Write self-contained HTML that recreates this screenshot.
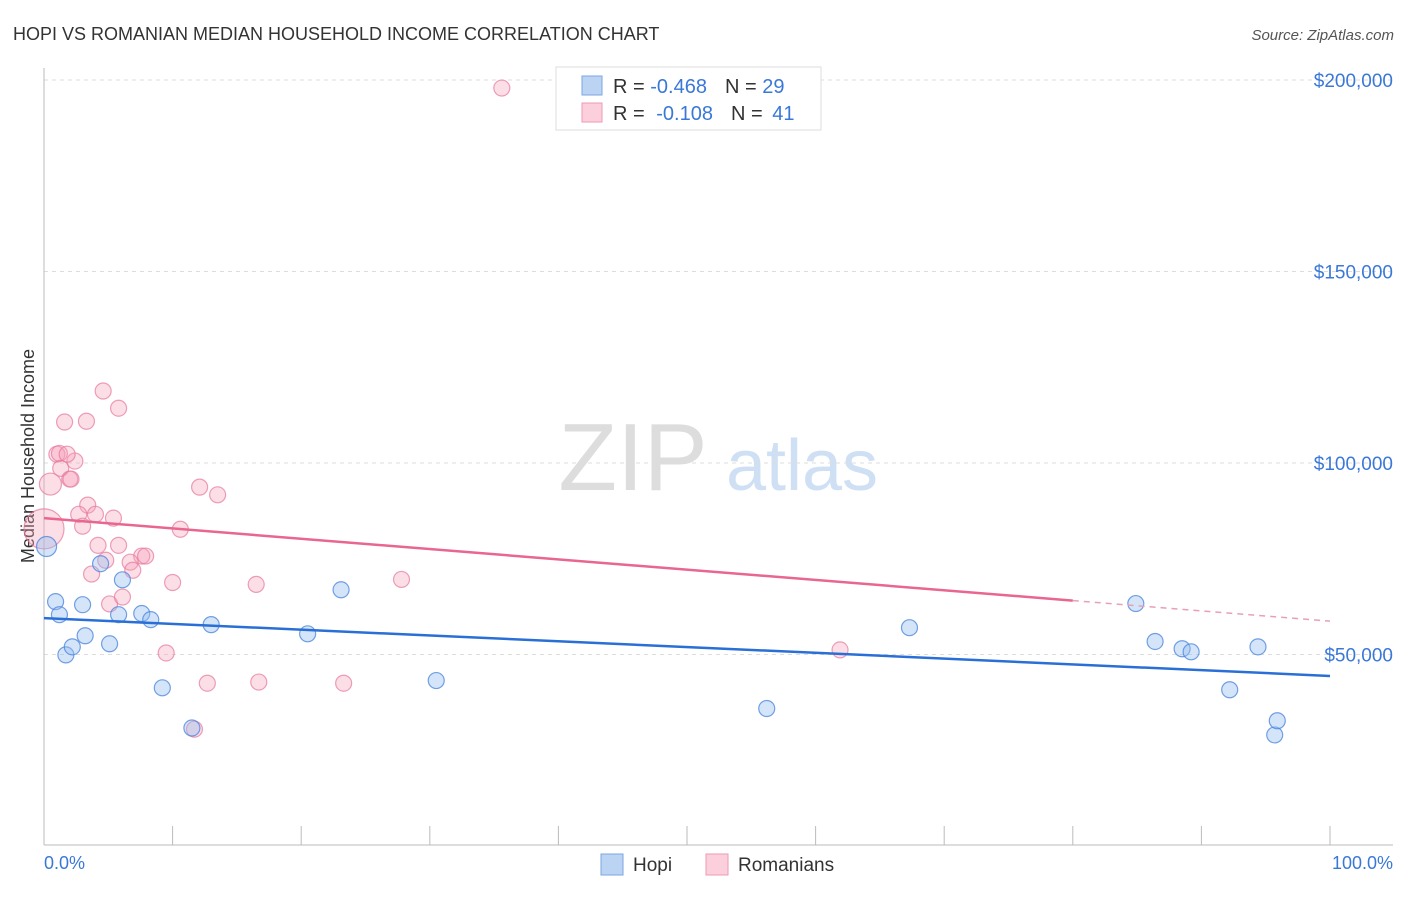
<!DOCTYPE html>
<html><head><meta charset="utf-8"><style>
body{margin:0;background:#fff;font-family:"Liberation Sans",sans-serif}
svg text{font-family:"Liberation Sans",sans-serif}
</style></head><body>
<svg width="1406" height="892" xmlns="http://www.w3.org/2000/svg">
<text x="13" y="40" font-size="18" fill="#333">HOPI VS ROMANIAN MEDIAN HOUSEHOLD INCOME CORRELATION CHART</text>
<text x="1394" y="40" font-size="15" fill="#555" font-style="italic" text-anchor="end">Source: ZipAtlas.com</text>
<g>
<text x="633" y="490" font-size="96" font-family="Liberation Serif" fill="#ddd" text-anchor="middle">ZIP</text>
<text x="802" y="490" font-size="72" fill="#cfe0f4" text-anchor="middle">atlas</text>
</g>
<g id="grid"></g>
<g id="axes"></g>
<text transform="translate(34,456) rotate(-90)" font-size="18" fill="#333" text-anchor="middle">Median Household Income</text>
<text x="44" y="869" font-size="18" fill="#3a78d8">0.0%</text>
<text x="1393" y="869" font-size="18" fill="#3a78d8" text-anchor="end">100.0%</text>
<g id="points"></g>
<g id="trends"></g>
<g>
<rect x="556" y="67" width="265" height="63" fill="#fff" stroke="#ddd"/>
<rect x="582" y="76" width="20" height="19" fill="#bcd4f4" stroke="#7ba6e0"/>
<rect x="582" y="103" width="20" height="19" fill="#fbd0dc" stroke="#ee9ab2"/>
<text x="613" y="93" font-size="20" fill="#333">R = <tspan fill="#3a78d8">-0.468</tspan><tspan dx="18">N = </tspan><tspan fill="#3a78d8">29</tspan></text>
<text x="613" y="120" font-size="20" fill="#333">R = <tspan dx="6" fill="#3a78d8">-0.108</tspan><tspan dx="18">N = </tspan><tspan dx="4" fill="#3a78d8">41</tspan></text>
</g>
<g>
<rect x="601" y="854" width="22" height="21" fill="#bcd4f4" stroke="#7ba6e0"/>
<text x="633" y="871" font-size="19" fill="#333">Hopi</text>
<rect x="706" y="854" width="22" height="21" fill="#fbd0dc" stroke="#ee9ab2"/>
<text x="738" y="871" font-size="19" fill="#333">Romanians</text>
</g>
</svg>
<script>
const yTicks=[50000,100000,150000,200000];
const yTickLabels=["$50,000","$100,000","$150,000","$200,000"];
const hopiX=[0.2,0.9,1.2,1.7,2.2,3.0,3.2,4.4,5.1,6.1,5.8,7.6,8.3,9.2,11.5,13.0,20.5,23.1,30.5,56.2,67.3,84.9,86.4,88.5,89.2,92.2,94.4,95.7,95.9];
const hopiY=[78200,63800,60400,49900,52000,63000,54900,73700,52800,69500,60400,60700,59100,41300,30800,57800,55400,66900,43200,35900,57000,63300,53400,51500,50700,40800,52000,29000,32700];
const romX=[35.6,4.6,5.8,1.6,3.3,1.0,1.2,1.3,2.4,2.0,0.5,2.1,12.1,13.5,3.4,2.7,5.4,4.0,3.0,10.6,4.2,5.8,7.6,7.9,6.7,6.9,3.7,4.8,10.0,16.5,27.8,5.1,6.1,9.5,61.9,12.7,16.7,23.3,11.7,0.0,1.8];
const romY=[197900,118800,114300,110700,110900,102300,102500,98600,100500,95800,94500,95800,93700,91700,89000,86600,85600,86600,83500,82700,78500,78500,75700,75700,74100,72000,71000,74600,68800,68300,69600,63200,65000,50400,51200,42500,42800,42500,30500,82800,102300];
const romR=[8,8,8,8,8,8,8,8,8,8,11,8,8,8,8,8,8,8,8,8,8,8,8,8,8,8,8,8,8,8,8,8,8,8,8,8,8,8,8,20,8];
const hopiR=[10,8,8,8,8,8,8,8,8,8,8,8,8,8,8,8,8,8,8,8,8,8,8,8,8,8,8,8,8];
const hopiTrend=[59500,44400];
const romTrend=[85600,58700];
const romSolidEnd=80;
const NS="http://www.w3.org/2000/svg";
const X=p=>44+p*12.86;
const Y=v=>80+(200000-v)*191.5/50000;
function mk(t,a,parent){const e=document.createElementNS(NS,t);for(const k in a)e.setAttribute(k,a[k]);document.getElementById(parent).appendChild(e);return e;}
yTicks.forEach((v,i)=>{
 const l=mk('line',{x1:44,x2:1393,y1:Y(v),y2:Y(v),stroke:'#ddd','stroke-dasharray':'4,4'},'grid');
 
 
 const t=mk('text',{x:1393,y:Y(v)+7,'font-size':19,fill:'#3a78d8','text-anchor':'end'},'grid');
 t.textContent=yTickLabels[i];
 
 
});
const ax=mk('line',{x1:44,x2:44,y1:68,y2:845,stroke:'#bbb'},'axes');


const xa=mk('line',{x1:44,x2:1393,y1:845,y2:845,stroke:'#bbb'},'axes');


for(let i=0;i<=10;i++){const t=mk('line',{x1:X(i*10),x2:X(i*10),y1:826,y2:845,stroke:'#bbb'},'axes');
 
 }
romX.forEach((x,i)=>{const c=mk('circle',{cx:X(x),cy:Y(romY[i]),r:romR[i],fill:'rgba(245,160,185,0.35)',stroke:'rgba(230,120,155,0.7)','stroke-width':1.2},'points');
 
 });
hopiX.forEach((x,i)=>{const c=mk('circle',{cx:X(x),cy:Y(hopiY[i]),r:hopiR[i],fill:'rgba(150,190,240,0.4)',stroke:'rgba(70,130,220,0.75)','stroke-width':1.2},'points');
 
 });
const rv=p=>romTrend[0]+(romTrend[1]-romTrend[0])*p/100;
const l1=mk('line',{x1:X(0),y1:Y(hopiTrend[0]),x2:X(100),y2:Y(hopiTrend[1]),stroke:'#2a6fd6','stroke-width':2.5},'trends');


const l2=mk('line',{x1:X(0),y1:Y(rv(0)),x2:X(romSolidEnd),y2:Y(rv(romSolidEnd)),stroke:'#e8668f','stroke-width':2.5},'trends');


const l3=mk('line',{x1:X(romSolidEnd),y1:Y(rv(romSolidEnd)),x2:X(100),y2:Y(rv(100)),stroke:'#e8a0b5','stroke-width':1.5,'stroke-dasharray':'6,5'},'trends');


</script>
</body></html>
